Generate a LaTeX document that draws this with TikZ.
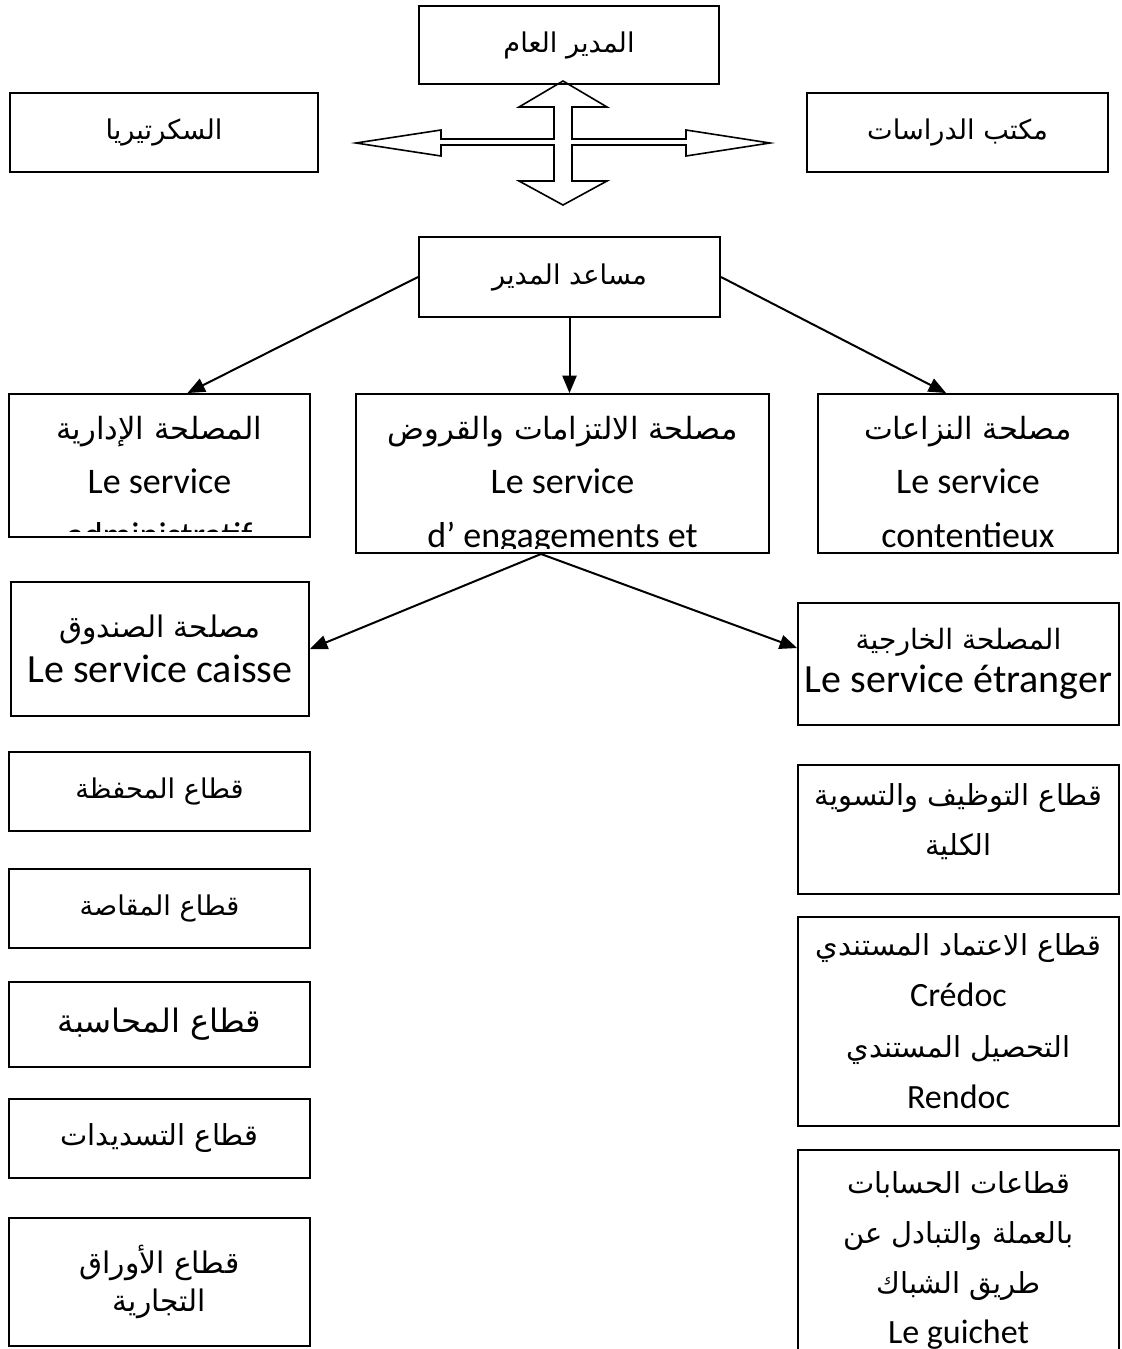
\documentclass[tikz,border=0pt]{standalone}
\usepackage{fontspec}
\setmainfont{Carlito}
\newfontfamily\arabicfont[Script=Arabic,Scale=0.85]{DejaVu Sans}
\TeXXeTstate=1
\usetikzlibrary{arrows,positioning}

\newcommand{\artxt}[1]{{\arabicfont\beginR #1\endR}}

\tikzset{
  orgbox/.style={draw, line width=1pt, inner sep=0pt, align=center},
  orgtxt/.style={inner sep=0pt, align=center},
  arr/.style={->, >=triangle 45, line width=1pt},
}

\begin{document}
\begin{tikzpicture}[x=0.5pt,y=-0.5pt]
\useasboundingbox (0,0) rectangle (1121,1349);
\clip (0,0) rectangle (1121,1349);
% top row
\node[orgbox, minimum width=150pt, minimum height=39pt, font=\fontsize{16}{19}\selectfont] (dg) at (569,45) {\artxt{المدير العام}};
\node[orgbox, minimum width=154pt, minimum height=39.5pt, font=\fontsize{16}{19}\selectfont] (secr) at (164,132.5) {\artxt{السكرتيريا}};
\node[orgbox, minimum width=150.5pt, minimum height=39.5pt, font=\fontsize{16}{19}\selectfont] (etudes) at (957.5,132.5) {\artxt{مكتب الدراسات}};
% cross arrow
\draw[line width=0.8pt] (563,81) -- (607,107) -- (572,107) -- (572,139) -- (686,139) -- (686,130) -- (770,143) -- (686,156) -- (686,145) -- (572,145) -- (572,181) -- (607,181) -- (563,205) -- (519,181) -- (554,181) -- (554,145) -- (441,145) -- (441,156) -- (356,143) -- (441,130) -- (441,139) -- (554,139) -- (554,107) -- (519,107) -- cycle;
\node[orgbox, minimum width=150.5pt, minimum height=40pt, font=\fontsize{16}{19}\selectfont] (adj) at (569.5,277) {\artxt{مساعد المدير}};
% services
\node[orgbox, minimum width=150.5pt, minimum height=71.5pt] (admin) at (159.5,465.5) {};
\node[orgbox, minimum width=206.5pt, minimum height=79.5pt] (engag) at (562.5,473.5) {};
\node[orgbox, minimum width=150pt, minimum height=79.5pt] (content) at (968,473.5) {};
\begin{scope}
  \clip ([yshift=3.5pt]admin.south west) rectangle (admin.north east);
  \node[orgtxt, below=11.5pt of admin.north, font=\fontsize{18}{27}\selectfont] (admintxt) {\artxt{المصلحة الإدارية}\\Le service\\administratif};
\end{scope}
\begin{scope}
  \clip ([yshift=3pt]engag.south west) rectangle (engag.north east);
  \node[orgtxt, below=11.5pt of engag.north, font=\fontsize{18}{27}\selectfont] (engagtxt) {\artxt{مصلحة الالتزامات والقروض}\\Le service\\d’ engagements et};
\end{scope}
\node[orgtxt, below=11.5pt of content.north, font=\fontsize{18}{27}\selectfont] (contenttxt) {\artxt{مصلحة النزاعات}\\Le service\\contentieux};
\draw[arr] (adj.west) -- ([xshift=14pt]admin.north);
\draw[arr] (adj.south) -- (adj.south |- engag.north);
\draw[arr] (adj.east) -- ([xshift=-11pt]content.north);
% caisse / etranger
\node[orgbox, minimum width=149pt, minimum height=67pt, font=\fontsize{20}{22.5}\selectfont] (caisse) at (160,649) {{\fontsize{17.5}{22.5}\selectfont\artxt{مصلحة الصندوق}}\\Le service caisse};
\node[orgbox, minimum width=160.5pt, minimum height=61pt, font=\fontsize{20}{21.5}\selectfont] (etranger) at (958.5,664) {{\fontsize{16.5}{21.5}\selectfont\artxt{المصلحة الخارجية}}\\Le service étranger};
\coordinate (split) at ([xshift=-10.75pt]engag.south);
\draw[arr] (split) -- (caisse.east);
\draw[arr] (split) -- ([yshift=8pt]etranger.west);
% left column
\node[orgbox, minimum width=150.5pt, minimum height=39.5pt, font=\fontsize{16}{20}\selectfont] (portef) at (159.5,791.5) {\artxt{قطاع المحفظة}};
\node[orgbox, minimum width=150.5pt, minimum height=39.5pt, font=\fontsize{16}{20}\selectfont] (compens) at (159.5,908.5) {\artxt{قطاع المقاصة}};
\node[orgbox, minimum width=150.5pt, minimum height=42.5pt, font=\fontsize{19}{23}\selectfont] (compta) at (159.5,1024.5) {\artxt{قطاع المحاسبة}};
\node[orgbox, minimum width=150.5pt, minimum height=39.5pt, font=\fontsize{17}{20}\selectfont] (reglem) at (159.5,1138.5) {\artxt{قطاع التسديدات}};
\node[orgbox, minimum width=150.5pt, minimum height=64pt, font=\fontsize{17.5}{19}\selectfont] (effets) at (159.5,1282) {\artxt{قطاع الأوراق}\\\artxt{التجارية}};
% right column
\node[orgbox, minimum width=160.5pt, minimum height=64.5pt] (placem) at (958.5,829.5) {};
\node[orgtxt, below=9.5pt of placem.north, font=\fontsize{17}{25}\selectfont] (placemtxt) {\artxt{قطاع التوظيف والتسوية}\\\artxt{الكلية}};
\node[orgbox, minimum width=160.5pt, minimum height=104.5pt, font=\fontsize{17}{25.5}\selectfont] (credoc) at (958.5,1021.5) {\artxt{قطاع الاعتماد المستندي}\\Crédoc\\\artxt{التحصيل المستندي}\\Rendoc};
\node[orgbox, minimum width=160.5pt, minimum height=125pt] (guichet) at (958.5,1275) {};
\node[orgtxt, below=11pt of guichet.north, font=\fontsize{17}{25}\selectfont] (guichettxt) {\artxt{قطاعات الحسابات}\\\artxt{بالعملة والتبادل عن}\\\artxt{طريق الشباك}\\Le guichet};
\end{tikzpicture}
\end{document}
